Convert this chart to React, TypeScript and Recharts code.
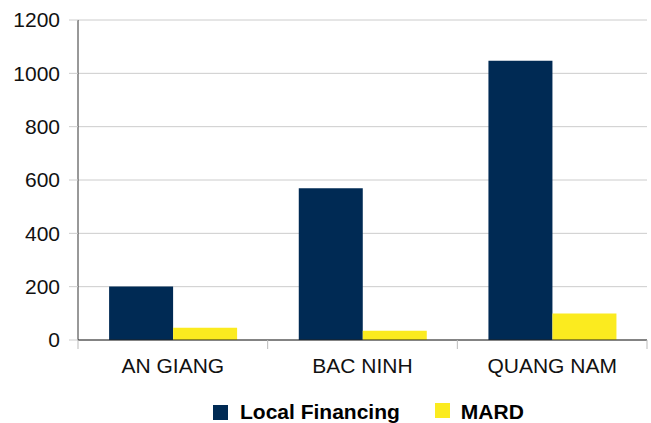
import { BarChart, Bar, XAxis, YAxis, CartesianGrid, Legend } from "recharts"

document.body.style.margin = "0"

// values
const provinces = ["AN GIANG", "BAC NINH", "QUANG NAM"]
const localFinancing = [201, 569, 1047]
const mard = [46, 35, 99]
const yTicks = [0, 200, 400, 600, 800, 1000, 1200]

const NAVY = "#002a54"
const YELLOW = "#fbeb1f"

const data = provinces.map((name, i) => ({
  name,
  local: localFinancing[i],
  mard: mard[i],
}))

// x tick: label in the middle, small tick marks at the category edges
const CategoryTick = (props: any) => {
  const { x, y, payload, index } = props
  const half = payload.offset ?? 0
  return (
    <g>
      <line x1={x - half} x2={x - half} y1={y - 9} y2={y} stroke="#bbb" />
      {index === provinces.length - 1 && (
        <line x1={x + half} x2={x + half} y1={y - 9} y2={y} stroke="#bbb" />
      )}
      <text x={x} y={y + 24} textAnchor="middle" fill="#111" fontSize={21}>
        {payload.value}
      </text>
    </g>
  )
}

const LegendContent = () => (
  <div
    style={{
      display: "flex",
      alignItems: "center",
      paddingLeft: 213,
      paddingTop: 22,
      fontWeight: "bold",
      fontSize: 21,
      lineHeight: "20px",
      color: "#000",
    }}
  >
    <span style={{ width: 15, height: 15, background: NAVY, marginRight: 12 }} />
    <span style={{ marginRight: 35 }}>Local Financing</span>
    <span style={{ width: 15, height: 15, background: YELLOW, marginRight: 11, marginTop: -3 }} />
    <span>MARD</span>
  </div>
)

export default function App() {
  return (
    <div style={{ fontFamily: "'Liberation Sans', Arial, sans-serif" }}>
      <BarChart
        width={651}
        height={423}
        data={data}
        margin={{ top: 20, right: 4, left: 0, bottom: 0 }}
        barCategoryGap="16.4%"
        barGap={0}
      >
        <CartesianGrid vertical={false} stroke="#ccc" />
        <XAxis
          dataKey="name"
          height={40}
          interval={0}
          tickSize={9}
          tickMargin={0}
          tickLine={false}
          axisLine={{ stroke: "#222" }}
          tick={<CategoryTick />}
        />
        <YAxis
          width={78}
          domain={[0, 1200]}
          ticks={yTicks}
          tickSize={9}
          tickMargin={9}
          tickLine={{ stroke: "#ccc" }}
          axisLine={{ stroke: "#333" }}
          tick={{ fill: "#111", fontSize: 21 }}
        />
        <Legend
          verticalAlign="bottom"
          wrapperStyle={{ left: 0, width: 651, height: 43 }}
          content={<LegendContent />}
        />
        <Bar name="Local Financing" dataKey="local" fill={NAVY} isAnimationActive={false} />
        <Bar name="MARD" dataKey="mard" fill={YELLOW} isAnimationActive={false} />
      </BarChart>
    </div>
  )
}
